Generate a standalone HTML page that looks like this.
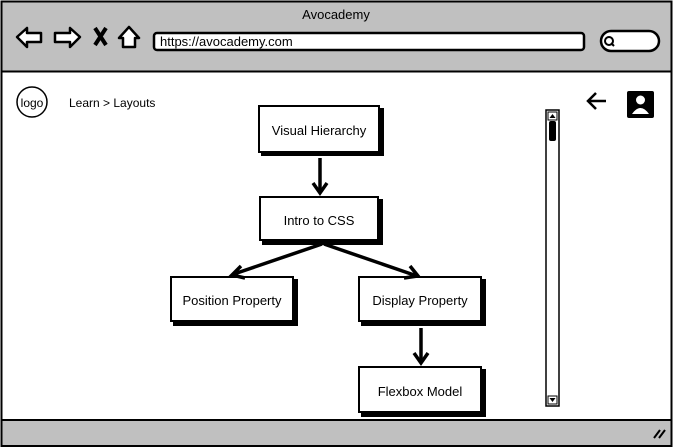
<!DOCTYPE html>
<html><head><meta charset="utf-8"><style>
html,body{margin:0;padding:0;background:#fff;}
svg{display:block;}
text{font-family:"Liberation Sans",sans-serif;fill:#000;}
</style></head><body>
<svg width="673" height="448" viewBox="0 0 673 448">
<rect x="0" y="0" width="673" height="448" fill="#fff"/>
<!-- header -->
<rect x="1.5" y="1.5" width="670" height="70" fill="#c0c0c0" stroke="#000" stroke-width="2"/>
<text x="336" y="19" font-size="13" text-anchor="middle">Avocademy</text>
<!-- back arrow -->
<path d="M17,37 L27,28 L27,33 L41,33 L41,42 L27,42 L27,47 Z" fill="#fff" stroke="#000" stroke-width="2.5" stroke-linejoin="round"/>
<!-- forward arrow -->
<path d="M80,37 L70,28 L70,33 L55,33 L55,42 L70,42 L70,47 Z" fill="#fff" stroke="#000" stroke-width="2.5" stroke-linejoin="round"/>
<!-- X -->
<path d="M95,28 L106,45 M106,28 L95,45" stroke="#000" stroke-width="4"/>
<!-- home -->
<path d="M129,27 L139,38 L135,38 L135,47 L123,47 L123,38 L119,38 Z" fill="#fff" stroke="#000" stroke-width="2.5" stroke-linejoin="round"/>
<!-- url bar -->
<rect x="154" y="33" width="430" height="17" rx="3" fill="#fff" stroke="#000" stroke-width="2.5"/>
<text x="160" y="46" font-size="13">https://avocademy.com</text>
<!-- search -->
<rect x="601" y="31" width="58" height="20" rx="10" fill="#fff" stroke="#000" stroke-width="2.5"/>
<circle cx="609" cy="41" r="4" fill="none" stroke="#000" stroke-width="2"/>
<path d="M611,43 L614,46" stroke="#000" stroke-width="2"/>
<!-- content frame -->
<path d="M1.5,72 L1.5,420 M671.5,72 L671.5,420" stroke="#000" stroke-width="2"/>
<!-- footer -->
<rect x="1.5" y="420" width="670" height="26" fill="#c0c0c0" stroke="#000" stroke-width="2"/>
<path d="M654,438 L660,430 M659,438 L665,430" stroke="#000" stroke-width="2"/>
<!-- logo -->
<circle cx="32" cy="102" r="15" fill="#fff" stroke="#000" stroke-width="1.5"/>
<text x="32" y="107" font-size="12" text-anchor="middle">logo</text>
<text x="69" y="107" font-size="12">Learn &gt; Layouts</text>
<!-- back arrow icon -->
<path d="M588,101 L606,101 M596,93 L588,101 L596,109" fill="none" stroke="#000" stroke-width="2.5"/>
<!-- user icon -->
<rect x="627" y="91" width="27" height="27" rx="2" fill="#000"/>
<circle cx="640.5" cy="100" r="4.5" fill="#fff"/>
<path d="M632,114 Q640.5,102 649,114 Z" fill="#fff"/>
<!-- scrollbar -->
<rect x="546" y="110" width="13" height="296" fill="#fff" stroke="#000" stroke-width="1.5"/>
<rect x="548" y="112" width="9" height="8" fill="#fff" stroke="#000" stroke-width="1"/>
<path d="M549.5,118 L552.5,114 L555.5,118 Z" fill="#000"/>
<rect x="549" y="121" width="7" height="20" rx="2" fill="#000"/>
<rect x="548" y="396" width="9" height="8" fill="#fff" stroke="#000" stroke-width="1"/>
<path d="M549.5,398 L552.5,402 L555.5,398 Z" fill="#000"/>
<!-- nodes with shadows -->
<g stroke="#000" stroke-width="2">
<rect x="262" y="109" width="121" height="46" fill="#000"/>
<rect x="259" y="106" width="120" height="46" fill="#fff"/>
<rect x="263" y="200" width="119" height="44" fill="#000"/>
<rect x="260" y="197" width="118" height="43" fill="#fff"/>
<rect x="174" y="280" width="123" height="45" fill="#000"/>
<rect x="171" y="277" width="122" height="44" fill="#fff"/>
<rect x="362" y="280" width="123" height="45" fill="#000"/>
<rect x="359" y="277" width="122" height="44" fill="#fff"/>
<rect x="362" y="370" width="123" height="46" fill="#000"/>
<rect x="359" y="367" width="122" height="45" fill="#fff"/>
</g>
<g font-size="13" text-anchor="middle">
<text x="319" y="135">Visual Hierarchy</text>
<text x="319" y="225">Intro to CSS</text>
<text x="232" y="305">Position Property</text>
<text x="420" y="305">Display Property</text>
<text x="420" y="396">Flexbox Model</text>
</g>
<!-- connectors -->
<g stroke="#000" stroke-width="3.5" fill="none">
<path d="M320,158 L320,192"/>
<path d="M313,183 L320,193 L327,183"/>
<path d="M322,244 L234,274"/>
<path d="M241,266 L232,275 L245,278"/>
<path d="M324,244 L417,276"/>
<path d="M404,278 L418,276 L410,266"/>
<path d="M421,328 L421,362"/>
<path d="M414,353 L421,363 L428,353"/>
</g>
</svg>
</body></html>
